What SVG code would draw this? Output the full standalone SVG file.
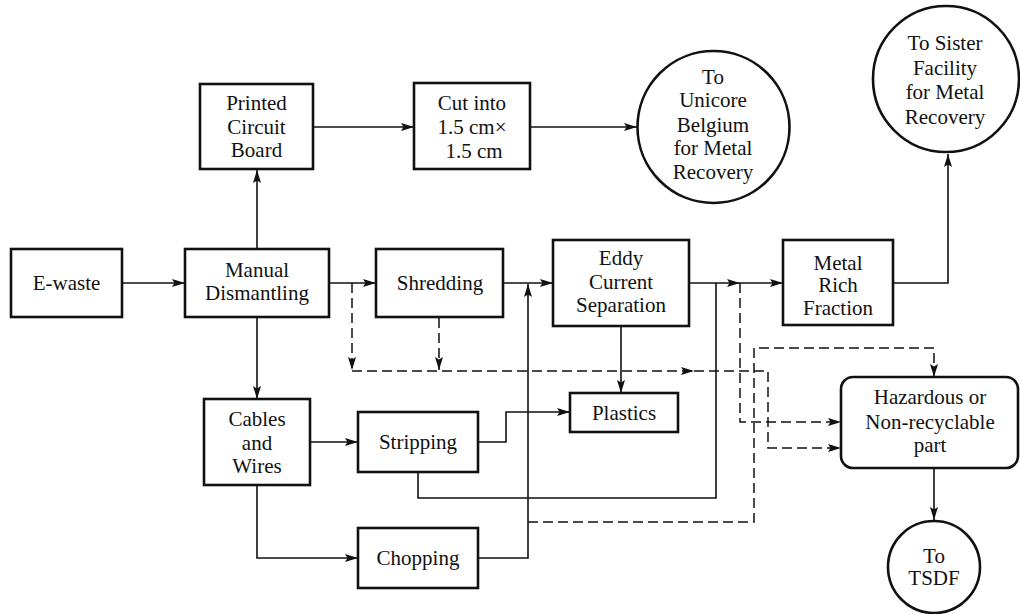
<svg xmlns="http://www.w3.org/2000/svg" width="1020" height="614" viewBox="0 0 1020 614">
<style>
.box{fill:#fff;stroke:#111;stroke-width:2.6}
.t{font-family:'Liberation Serif','Times New Roman',Times,'DejaVu Serif',serif;font-size:21px;fill:#111;text-anchor:middle}
.c{fill:none;stroke:#111;stroke-width:1.6}
.d{fill:none;stroke:#111;stroke-width:1.5;stroke-dasharray:10,5}
</style>
<defs>
<marker id="a" markerUnits="userSpaceOnUse" markerWidth="14" markerHeight="10" refX="13" refY="4" orient="auto">
<path d="M0,0 L13,4 L0,8 L2.5,4 z" fill="#111"/>
</marker>
</defs>
<rect width="1020" height="614" fill="#fff"/>
<g id="connectors">
<line class="c" x1="122" y1="283" x2="185" y2="283" marker-end="url(#a)"/>
<line class="c" x1="257" y1="249" x2="257" y2="170" marker-end="url(#a)"/>
<line class="c" x1="313" y1="127" x2="414" y2="127" marker-end="url(#a)"/>
<line class="c" x1="530" y1="127" x2="637" y2="127" marker-end="url(#a)"/>
<line class="c" x1="329" y1="283" x2="376" y2="283" marker-end="url(#a)"/>
<line class="c" x1="503" y1="283" x2="553" y2="283" marker-end="url(#a)"/>
<polyline class="c" points="478,558 528,558 528,284" marker-end="url(#a)"/>
<line class="c" x1="257" y1="317" x2="257" y2="399" marker-end="url(#a)"/>
<line class="c" x1="310" y1="442" x2="358" y2="442" marker-end="url(#a)"/>
<polyline class="c" points="257,485 257,558 358,558" marker-end="url(#a)"/>
<polyline class="c" points="478,442 506,442 506,412 570,412" marker-end="url(#a)"/>
<line class="c" x1="621" y1="327" x2="621" y2="393" marker-end="url(#a)"/>
<polyline class="c" points="418,472 418,498 716,498 716,283"/>
<line class="c" x1="689" y1="283" x2="740" y2="283" marker-end="url(#a)"/>
<line class="c" x1="740" y1="283" x2="783" y2="283" marker-end="url(#a)"/>
<polyline class="c" points="893,283 948,283 948,154" marker-end="url(#a)"/>
<line class="c" x1="934" y1="468" x2="934" y2="520" marker-end="url(#a)"/>
<line class="d" x1="352" y1="283" x2="352" y2="370" marker-end="url(#a)"/>
<line class="d" x1="439" y1="318" x2="439" y2="370" marker-end="url(#a)"/>
<line class="d" x1="352" y1="371" x2="694" y2="371" marker-end="url(#a)"/>
<polyline class="d" points="694,371 768,371 768,448 841,448" marker-end="url(#a)"/>
<polyline class="d" points="740,283 740,422 841,422" marker-end="url(#a)"/>
<polyline class="d" points="528,522 754,522 754,348 934,348 934,377" marker-end="url(#a)"/>
</g>
<g id="ewaste"><rect class="box" x="11" y="249" width="111" height="68"/><text class="t" x="66.5" y="290">E-waste</text></g>
<g id="manual"><rect class="box" x="185" y="249" width="144" height="68"/><text class="t" x="257" y="277">Manual</text><text class="t" x="257" y="300">Dismantling</text></g>
<g id="pcb"><rect class="box" x="200" y="84" width="113" height="85"/><text class="t" x="256.5" y="110">Printed</text><text class="t" x="256.5" y="134">Circuit</text><text class="t" x="256.5" y="157">Board</text></g>
<g id="cut"><rect class="box" x="414" y="83" width="116" height="86"/><text class="t" x="472" y="110">Cut into</text><text class="t" x="472" y="134">1.5 cm×</text><text class="t" x="474" y="158">1.5 cm</text></g>
<g id="unicore"><circle class="box" cx="713.5" cy="127" r="76"/><text class="t" x="713" y="84">To</text><text class="t" x="713" y="107">Unicore</text><text class="t" x="713" y="132">Belgium</text><text class="t" x="713" y="155">for Metal</text><text class="t" x="713" y="179">Recovery</text></g>
<g id="sister"><circle class="box" cx="946" cy="79" r="73"/><text class="t" x="945" y="50">To Sister</text><text class="t" x="945" y="75">Facility</text><text class="t" x="945" y="99">for Metal</text><text class="t" x="945" y="124">Recovery</text></g>
<g id="shredding"><rect class="box" x="376" y="249" width="127" height="68"/><text class="t" x="440" y="290">Shredding</text></g>
<g id="eddy"><rect class="box" x="553" y="240" width="136" height="86"/><text class="t" x="621" y="265">Eddy</text><text class="t" x="621" y="289">Current</text><text class="t" x="621" y="312">Separation</text></g>
<g id="metal"><rect class="box" x="783" y="240" width="110" height="85"/><text class="t" x="838" y="270">Metal</text><text class="t" x="838" y="292">Rich</text><text class="t" x="838" y="315">Fraction</text></g>
<g id="plastics"><rect class="box" x="570" y="393" width="108" height="39"/><text class="t" x="624" y="420">Plastics</text></g>
<g id="cables"><rect class="box" x="204" y="399" width="106" height="86"/><text class="t" x="257" y="426">Cables</text><text class="t" x="257" y="450">and</text><text class="t" x="257" y="473">Wires</text></g>
<g id="stripping"><rect class="box" x="358" y="412" width="120" height="60"/><text class="t" x="418" y="449">Stripping</text></g>
<g id="chopping"><rect class="box" x="358" y="528" width="120" height="60"/><text class="t" x="418" y="565">Chopping</text></g>
<g id="hazardous"><rect class="box" x="841" y="377" width="177" height="91" rx="12"/><text class="t" x="930" y="404">Hazardous or</text><text class="t" x="930" y="429">Non-recyclable</text><text class="t" x="930" y="452">part</text></g>
<g id="tsdf"><circle class="box" cx="934" cy="567" r="46"/><text class="t" x="934" y="563">To</text><text class="t" x="934" y="585">TSDF</text></g>
</svg>
